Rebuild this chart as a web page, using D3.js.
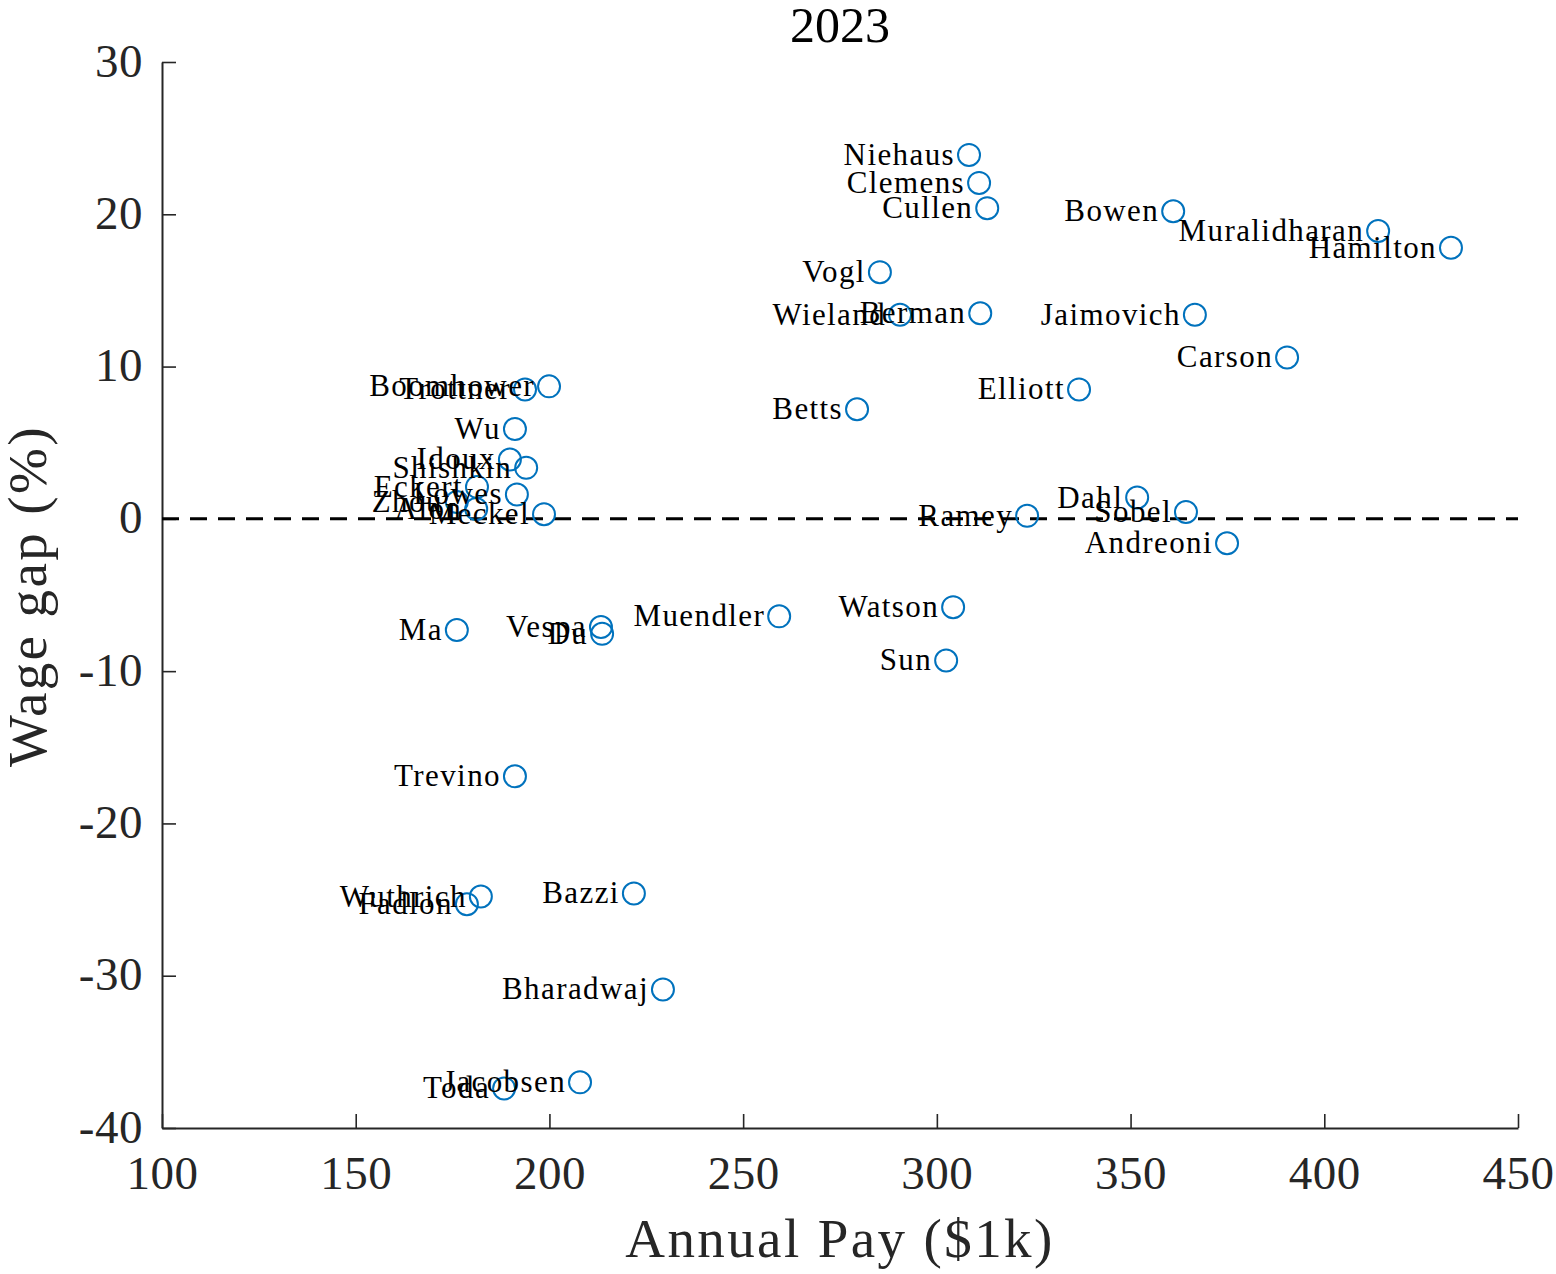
<!DOCTYPE html>
<html>
<head>
<meta charset="utf-8">
<script src="https://cdn.jsdelivr.net/npm/d3@7"></script>
<style>
  html, body { margin: 0; padding: 0; background: #fff; }
  svg { display: block; }
</style>
</head>
<body>
<svg id="chart" width="1556" height="1274"></svg>
<script>
const names = ["Niehaus","Clemens","Cullen","Bowen","Muralidharan","Hamilton","Vogl","Wieland","Berman","Jaimovich",
  "Carson","Elliott","Betts","Boomhower","Trottner","Wu","Idoux","Shishkin","Eckert","Lowes",
  "Zhou","Alon","Meckel","Ramey","Dahl","Sobel","Andreoni","Ma","Vespa","Du",
  "Muendler","Watson","Sun","Trevino","Wuthrich","Fadlon","Bazzi","Bharadwaj","Jacobsen","Toda"];
const pay = [308.3,310.9,313.0,361.0,413.9,432.7,285.3,290.5,311.2,366.6,
  390.4,336.7,279.4,199.9,193.7,191.1,189.8,194.0,181.3,191.6,
  176.1,181.1,198.6,323.3,351.7,364.3,374.9,176.1,213.3,213.6,
  259.3,304.2,302.4,191.1,182.3,178.7,221.8,229.3,207.9,188.3];
const gap = [23.9,22.06,20.4,20.2,18.9,17.8,16.2,13.4,13.5,13.4,
  10.6,8.5,7.2,8.7,8.5,5.9,3.9,3.35,2.1,1.6,
  1.1,0.65,0.3,0.2,1.4,0.45,-1.6,-7.3,-7.1,-7.55,
  -6.4,-5.8,-9.3,-16.9,-24.8,-25.3,-24.6,-30.9,-37.0,-37.4];
const xTicks = [100,150,200,250,300,350,400,450];
const yTicks = [-40,-30,-20,-10,0,10,20,30];
const title = "2023";
const xLabel = "Annual Pay ($1k)";
const yLabel = "Wage gap (%)";

const svg = d3.select("#chart");
const x = d3.scaleLinear().domain([100,450]).range([162,1518]);
const y = d3.scaleLinear().domain([-40,30]).range([1128,62]);
const axisColor = "#262626";
const serif = "'Liberation Serif', 'DejaVu Serif', serif";

// axes
const gx = svg.append("g").attr("transform", `translate(0,${y(-40)})`)
  .call(d3.axisBottom(x).tickValues(xTicks).tickFormat(d3.format("d")).tickSizeInner(-14).tickSizeOuter(0).tickPadding(28));
const gy = svg.append("g").attr("transform", `translate(${x(100)},0)`)
  .call(d3.axisLeft(y).tickValues(yTicks).tickFormat(d => d < 0 ? "-" + Math.abs(d) : String(d)).tickSizeInner(-14).tickSizeOuter(0).tickPadding(19));
[gx, gy].forEach(g => {
  g.select(".domain").attr("stroke", axisColor).attr("stroke-width", 2);
  g.selectAll(".tick line").attr("stroke", axisColor).attr("stroke-width", 1.6);
  g.selectAll(".tick text").attr("fill", axisColor).style("font-family", serif).style("font-size", "47px").style("letter-spacing", "0.5px");
});
gy.selectAll(".tick text").attr("dy", "0.3em");

// zero dashed line
svg.append("line")
  .attr("x1", x(100)).attr("x2", x(450))
  .attr("y1", y(0)).attr("y2", y(0))
  .attr("stroke", "#000").attr("stroke-width", 3)
  .attr("stroke-dasharray", "17,11");

const data = names.map((n, i) => ({ name: n, pay: pay[i], gap: gap[i] }));

// markers
svg.append("g").selectAll("circle").data(data).join("circle")
  .attr("cx", d => x(d.pay)).attr("cy", d => y(d.gap)).attr("r", 11)
  .attr("fill", "none").attr("stroke", "#0072BD").attr("stroke-width", 2);

// labels
svg.append("g").selectAll("text").data(data).join("text")
  .attr("x", d => x(d.pay) - 14).attr("y", d => y(d.gap) + 10)
  .attr("text-anchor", "end")
  .style("font-family", serif).style("font-size", "31px").style("letter-spacing", "1.4px")
  .attr("fill", "#000")
  .text(d => d.name);

// title
svg.append("text").attr("x", 840).attr("y", 42).attr("text-anchor", "middle")
  .style("font-family", serif).style("font-size", "50px").attr("fill", "#000")
  .text(title);

// axis labels
svg.append("text").attr("x", 840).attr("y", 1257).attr("text-anchor", "middle")
  .style("font-family", serif).style("font-size", "55px").style("letter-spacing", "2.4px").attr("fill", axisColor)
  .text(xLabel);
svg.append("text").attr("transform", `translate(46,${596}) rotate(-90)`).attr("text-anchor", "middle")
  .style("font-family", serif).style("font-size", "55px").style("letter-spacing", "2.4px").attr("fill", axisColor)
  .text(yLabel);
</script>
</body>
</html>
